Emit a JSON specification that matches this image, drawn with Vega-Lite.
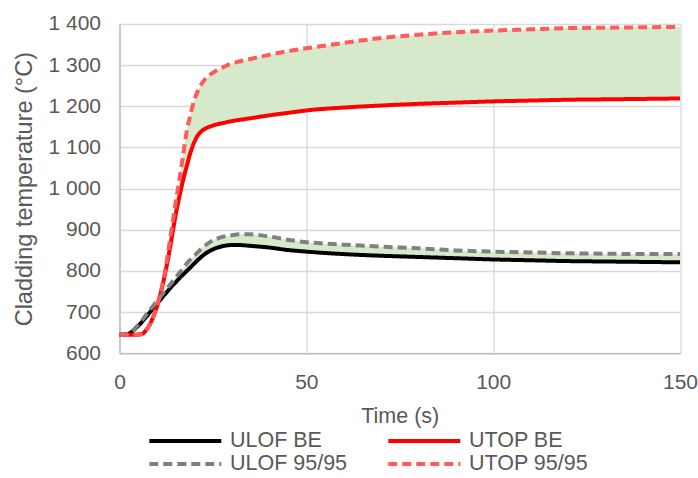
{
  "$schema": "https://vega.github.io/schema/vega-lite/v6.json",
  "width": 560.5,
  "height": 329.3,
  "autosize": {"type": "none"},
  "padding": {"left": 119.5, "top": 24, "right": 18, "bottom": 125},
  "background": "white",
  "config": {
    "font": "Liberation Sans",
    "view": {"stroke": null},
    "axis": {
      "gridColor": "#D9D9D9",
      "gridWidth": 1.3,
      "domainColor": "#BFBFBF",
      "domainWidth": 1.5,
      "ticks": false,
      "labelColor": "#595959",
      "titleColor": "#595959",
      "titleFontWeight": "normal",
      "labelFont": "Liberation Sans",
      "titleFont": "Liberation Sans"
    },
    "legend": {
      "labelColor": "#595959",
      "labelFont": "Liberation Sans",
      "padding": 0
    }
  },
  "data": {
    "values": [
      {"t": 0, "ulof_be": 645, "ulof_95": 645, "utop_be": 645, "utop_95": 645},
      {"t": 2, "ulof_be": 646, "ulof_95": 646, "utop_be": 645, "utop_95": 645},
      {"t": 3, "ulof_be": 650, "ulof_95": 650, "utop_be": 645, "utop_95": 645},
      {"t": 4, "ulof_be": 658, "ulof_95": 659, "utop_be": 645, "utop_95": 645},
      {"t": 6, "ulof_be": 676, "ulof_95": 680, "utop_be": 647, "utop_95": 647},
      {"t": 7, "ulof_be": 687, "ulof_95": 692, "utop_be": 655, "utop_95": 655},
      {"t": 8, "ulof_be": 698, "ulof_95": 704, "utop_be": 668, "utop_95": 668},
      {"t": 9, "ulof_be": 709, "ulof_95": 715, "utop_be": 688, "utop_95": 688},
      {"t": 10, "ulof_be": 720, "ulof_95": 727, "utop_be": 713, "utop_95": 715},
      {"t": 11, "ulof_be": 731, "ulof_95": 738, "utop_be": 745, "utop_95": 748},
      {"t": 12, "ulof_be": 742, "ulof_95": 750, "utop_be": 785, "utop_95": 790},
      {"t": 13, "ulof_be": 752, "ulof_95": 761, "utop_be": 830, "utop_95": 845},
      {"t": 14, "ulof_be": 763, "ulof_95": 772, "utop_be": 882, "utop_95": 905},
      {"t": 15, "ulof_be": 772, "ulof_95": 784, "utop_be": 935, "utop_95": 965},
      {"t": 16, "ulof_be": 782, "ulof_95": 795, "utop_be": 980, "utop_95": 1020},
      {"t": 17, "ulof_be": 791, "ulof_95": 806, "utop_be": 1020, "utop_95": 1080},
      {"t": 18, "ulof_be": 800, "ulof_95": 818, "utop_be": 1055, "utop_95": 1140},
      {"t": 19, "ulof_be": 809, "ulof_95": 828, "utop_be": 1088, "utop_95": 1180},
      {"t": 20, "ulof_be": 818, "ulof_95": 837, "utop_be": 1113, "utop_95": 1215},
      {"t": 21, "ulof_be": 827, "ulof_95": 846, "utop_be": 1130, "utop_95": 1238},
      {"t": 22, "ulof_be": 835, "ulof_95": 855, "utop_be": 1140, "utop_95": 1255},
      {"t": 24, "ulof_be": 848, "ulof_95": 869, "utop_be": 1150, "utop_95": 1275},
      {"t": 26, "ulof_be": 856, "ulof_95": 878, "utop_be": 1156, "utop_95": 1287},
      {"t": 28, "ulof_be": 861, "ulof_95": 884, "utop_be": 1160, "utop_95": 1296},
      {"t": 30, "ulof_be": 863, "ulof_95": 887, "utop_be": 1164, "utop_95": 1304},
      {"t": 32, "ulof_be": 863, "ulof_95": 889, "utop_be": 1167, "utop_95": 1309},
      {"t": 35, "ulof_be": 861, "ulof_95": 889, "utop_be": 1171, "utop_95": 1315},
      {"t": 40, "ulof_be": 857, "ulof_95": 884, "utop_be": 1178, "utop_95": 1325},
      {"t": 45, "ulof_be": 851, "ulof_95": 876, "utop_be": 1184, "utop_95": 1334},
      {"t": 50, "ulof_be": 847, "ulof_95": 870, "utop_be": 1190, "utop_95": 1341},
      {"t": 60, "ulof_be": 841, "ulof_95": 864, "utop_be": 1197, "utop_95": 1354},
      {"t": 70, "ulof_be": 837, "ulof_95": 859, "utop_be": 1202, "utop_95": 1366},
      {"t": 80, "ulof_be": 834, "ulof_95": 855, "utop_be": 1206, "utop_95": 1374},
      {"t": 90, "ulof_be": 831, "ulof_95": 850, "utop_be": 1209, "utop_95": 1380},
      {"t": 100, "ulof_be": 828, "ulof_95": 847, "utop_be": 1212, "utop_95": 1384},
      {"t": 110, "ulof_be": 826, "ulof_95": 845, "utop_be": 1214, "utop_95": 1387},
      {"t": 120, "ulof_be": 824, "ulof_95": 843, "utop_be": 1216, "utop_95": 1390},
      {"t": 130, "ulof_be": 823, "ulof_95": 842, "utop_be": 1217, "utop_95": 1391},
      {"t": 140, "ulof_be": 822, "ulof_95": 841, "utop_be": 1218, "utop_95": 1392},
      {"t": 150, "ulof_be": 821, "ulof_95": 841, "utop_be": 1219, "utop_95": 1393}
    ]
  },
  "encoding": {
    "x": {
      "field": "t",
      "type": "quantitative",
      "scale": {"domain": [0, 150], "nice": false},
      "axis": {
        "title": "Time (s)",
        "values": [0, 50, 100, 150],
        "labelFlush": false,
        "labelFontSize": 21,
        "labelPadding": 18,
        "titleFontSize": 21.5,
        "titlePadding": 13
      }
    }
  },
  "layer": [
    {
      "mark": {"type": "area", "color": "#d6e9ca", "interpolate": "monotone"},
      "encoding": {
        "y": {
          "field": "utop_be",
          "type": "quantitative",
          "scale": {"domain": [600, 1400], "nice": false},
          "axis": {
            "title": "Cladding temperature (°C)",
            "values": [600, 700, 800, 900, 1000, 1100, 1200, 1300, 1400],
            "labelExpr": "replace(format(datum.value, ','), ',', ' ')",
            "labelFontSize": 21,
            "labelPadding": 19,
            "titleFontSize": 23.5,
            "titlePadding": 11
          }
        },
        "y2": {"field": "utop_95"}
      }
    },
    {
      "mark": {"type": "area", "color": "#d6e9ca", "interpolate": "monotone"},
      "encoding": {
        "y": {"field": "ulof_be", "type": "quantitative"},
        "y2": {"field": "ulof_95"}
      }
    },
    {
      "transform": [
        {"fold": ["ulof_be", "utop_be", "ulof_95", "utop_95"], "as": ["series", "temp"]}
      ],
      "mark": {"type": "line", "strokeWidth": 4, "interpolate": "monotone", "strokeCap": "butt"},
      "encoding": {
        "y": {"field": "temp", "type": "quantitative"},
        "color": {
          "field": "series",
          "type": "nominal",
          "sort": ["ulof_be", "utop_be", "ulof_95", "utop_95"],
          "scale": {
            "domain": ["ulof_be", "utop_be", "ulof_95", "utop_95"],
            "range": ["#000000", "#FF0000", "#808080", "#FF5B5B"]
          },
          "legend": {
            "title": null,
            "orient": "none",
            "legendX": 53.8,
            "legendY": 404.7,
            "columns": 2,
            "direction": "horizontal",
            "symbolType": "M-3.6,0H3.6",
            "symbolSize": 400,
            "symbolStrokeWidth": 4,
            "labelFontSize": 21.5,
            "labelOffset": 32.7,
            "columnPadding": 33,
            "rowPadding": 0.3,
            "labelExpr": "datum.label == 'ulof_be' ? 'ULOF BE' : datum.label == 'utop_be' ? 'UTOP BE' : datum.label == 'ulof_95' ? 'ULOF 95/95' : 'UTOP 95/95'"
          }
        },
        "strokeDash": {
          "field": "series",
          "type": "nominal",
          "sort": ["ulof_be", "utop_be", "ulof_95", "utop_95"],
          "scale": {
            "domain": ["ulof_be", "utop_be", "ulof_95", "utop_95"],
            "range": [[1, 0], [1, 0], [9, 5], [9, 5]]
          },
          "legend": {
            "title": null,
            "orient": "none",
            "legendX": 53.8,
            "legendY": 404.7,
            "columns": 2,
            "direction": "horizontal",
            "symbolType": "M-3.6,0H3.6",
            "symbolSize": 400,
            "symbolStrokeWidth": 4,
            "labelFontSize": 21.5,
            "labelOffset": 32.7,
            "columnPadding": 33,
            "rowPadding": 0.3,
            "labelExpr": "datum.label == 'ulof_be' ? 'ULOF BE' : datum.label == 'utop_be' ? 'UTOP BE' : datum.label == 'ulof_95' ? 'ULOF 95/95' : 'UTOP 95/95'"
          }
        }
      }
    }
  ]
}
